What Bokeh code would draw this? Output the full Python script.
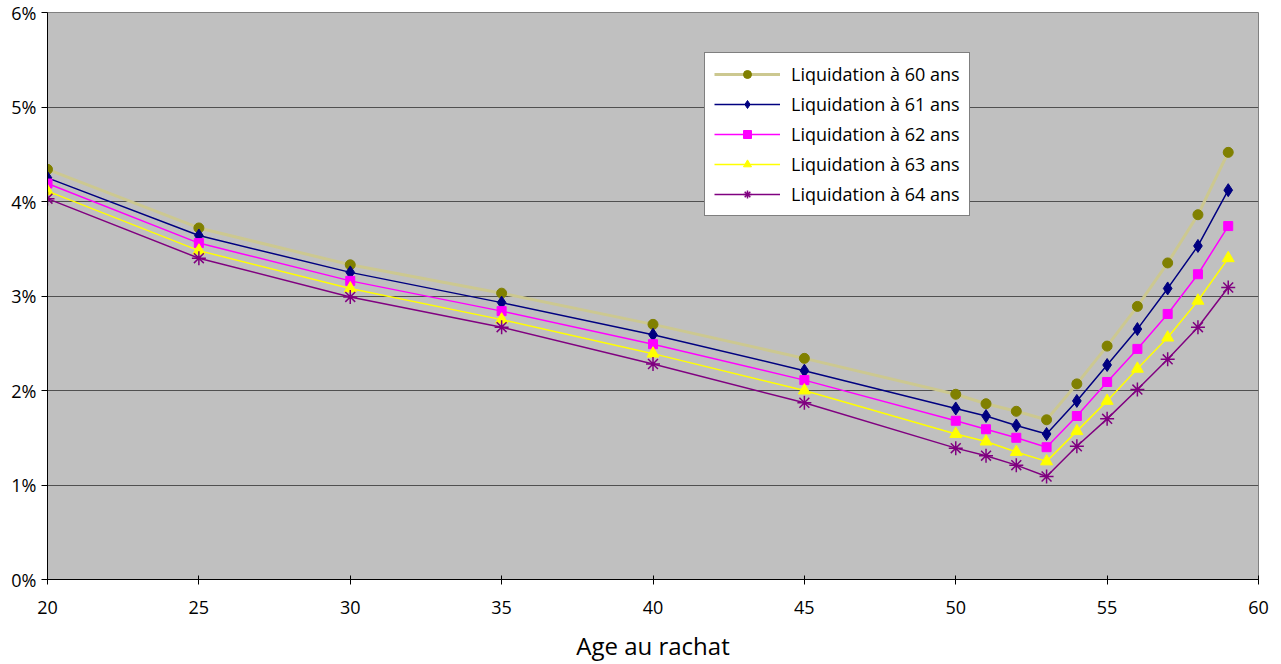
from bokeh.plotting import figure
from bokeh.models import Legend, LegendItem, PrintfTickFormatter, FixedTicker, Range1d
from bokeh.embed import file_html
from bokeh.resources import INLINE

ages = [20, 25, 30, 35, 40, 45, 50, 51, 52, 53, 54, 55, 56, 57, 58, 59]
liq60 = [4.34, 3.72, 3.33, 3.03, 2.70, 2.34, 1.96, 1.86, 1.78, 1.69, 2.07, 2.47, 2.89, 3.35, 3.86, 4.52]
liq61 = [4.25, 3.64, 3.25, 2.93, 2.59, 2.21, 1.81, 1.73, 1.63, 1.54, 1.89, 2.27, 2.65, 3.08, 3.53, 4.12]
liq62 = [4.19, 3.56, 3.16, 2.84, 2.49, 2.11, 1.68, 1.59, 1.50, 1.40, 1.73, 2.09, 2.44, 2.81, 3.23, 3.74]
liq63 = [4.11, 3.48, 3.08, 2.75, 2.39, 2.00, 1.54, 1.46, 1.35, 1.25, 1.57, 1.89, 2.23, 2.56, 2.95, 3.40]
liq64 = [4.03, 3.40, 2.99, 2.67, 2.28, 1.87, 1.39, 1.31, 1.21, 1.09, 1.41, 1.70, 2.01, 2.33, 2.67, 3.09]
labels = ["Liquidation à 60 ans", "Liquidation à 61 ans", "Liquidation à 62 ans",
          "Liquidation à 63 ans", "Liquidation à 64 ans"]
x_ticks = [20, 25, 30, 35, 40, 45, 50, 55, 60]
y_ticks = [0, 1, 2, 3, 4, 5, 6]

FONT = "Open Sans"

p = figure(width=1281, height=664, output_backend="svg", toolbar_location=None,
           x_range=Range1d(20, 60), y_range=Range1d(0, 6),
           min_border_left=47, min_border_right=23, min_border_top=12, min_border_bottom=83)
p.background_fill_color = "#C0C0C0"
p.border_fill_color = "white"
p.outline_line_color = "#808080"
p.outline_line_width = 1

p.xgrid.grid_line_color = None
p.ygrid.grid_line_color = "#505050"
p.ygrid.grid_line_width = 1
p.ygrid.ticker = FixedTicker(ticks=y_ticks)

p.xaxis.ticker = FixedTicker(ticks=x_ticks)
p.yaxis.ticker = FixedTicker(ticks=y_ticks)
p.yaxis.formatter = PrintfTickFormatter(format="%d%%")
for ax in (p.xaxis[0], p.yaxis[0]):
    ax.axis_line_color = "black"
    ax.major_tick_line_color = "black"
    ax.minor_tick_line_color = None
    ax.major_label_text_font = FONT
    ax.major_label_text_font_size = "18px"
    ax.major_label_text_color = "black"
p.xaxis.major_tick_in = 4
p.xaxis.major_tick_out = 5
p.yaxis.major_tick_in = 0
p.yaxis.major_tick_out = 6
p.xaxis.major_label_standoff = 16
p.yaxis.major_label_standoff = 5
p.xaxis.axis_label = "Age au rachat"
p.xaxis.axis_label_text_font = FONT
p.xaxis.axis_label_text_font_size = "24px"
p.xaxis.axis_label_text_font_style = "normal"
p.xaxis.axis_label_text_color = "black"
p.xaxis.axis_label_standoff = 12

items = []
l0 = p.line(ages, liq60, line_color="#CCC890", line_width=3)
m0 = p.scatter(ages, liq60, marker="circle", size=10, fill_color="#808000", line_color="#808000")
items.append(LegendItem(label=labels[0], renderers=[l0, m0]))

l1 = p.line(ages, liq61, line_color="#000080", line_width=1.5)
m1 = p.scatter(ages, liq61, marker="diamond", size=13, fill_color="#000080", line_color="#000080")
items.append(LegendItem(label=labels[1], renderers=[l1, m1]))

l2 = p.line(ages, liq62, line_color="#FF00FF", line_width=1.5)
m2 = p.scatter(ages, liq62, marker="square", size=9, fill_color="#FF00FF", line_color="#FF00FF")
items.append(LegendItem(label=labels[2], renderers=[l2, m2]))

l3 = p.line(ages, liq63, line_color="#FFFF00", line_width=1.5)
m3 = p.scatter(ages, liq63, marker="triangle", size=12, fill_color="#FFFF00", line_color="#FFFF00")
items.append(LegendItem(label=labels[3], renderers=[l3, m3]))

l4 = p.line(ages, liq64, line_color="#800080", line_width=1.5)
m4 = p.scatter(ages, liq64, marker="asterisk", size=14, line_color="#800080", line_width=1.5)
items.append(LegendItem(label=labels[4], renderers=[l4, m4]))

legend = Legend(items=items, location=(657, 363))
legend.background_fill_color = "white"
legend.background_fill_alpha = 1
legend.border_line_color = "black"
legend.border_line_width = 1
legend.label_text_font = FONT
legend.label_text_font_size = "18px"
legend.label_text_color = "black"
legend.glyph_width = 66
legend.glyph_height = 20
legend.label_height = 20
legend.spacing = 6
legend.padding = 9
legend.margin = 0
legend.label_standoff = 11
p.add_layout(legend, "center")

open("out.html", "w").write(file_html(p, INLINE))
